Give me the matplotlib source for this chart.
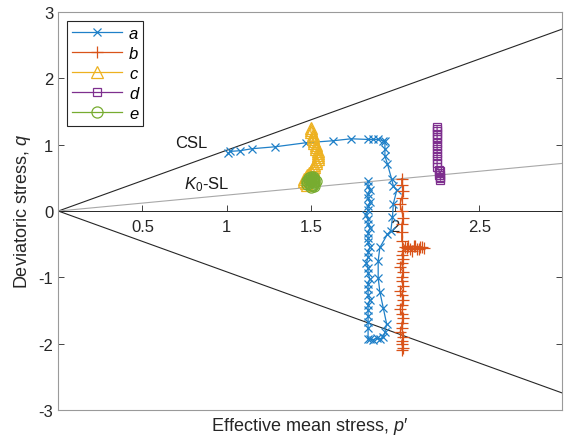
import numpy as np
import matplotlib.pyplot as plt

plt.rcParams['font.family'] = ['Liberation Sans', 'DejaVu Sans']
plt.rcParams['mathtext.fontset'] = 'custom'
plt.rcParams['mathtext.rm'] = 'Liberation Sans'
plt.rcParams['mathtext.it'] = 'Liberation Sans:italic'
plt.rcParams['axes.unicode_minus'] = False

# ---------- data ----------
M_csl = 0.917      # CSL slope (compression / extension)
K0_slope = 0.24    # K0 stress line slope
line_p = [0.0, 3.0]

a_p = [1.84, 1.84, 1.85, 1.84, 1.84, 1.85, 1.84, 1.84, 1.83, 1.84, 1.84, 1.85, 1.84, 1.84,
       1.84, 1.85, 1.84, 1.84, 1.83, 1.84, 1.84, 1.85, 1.84, 1.84, 1.84, 1.85, 1.84, 1.84,
       1.84, 1.84, 1.84, 1.84,
       1.85, 1.87, 1.89, 1.91, 1.93, 1.94, 1.95, 1.93, 1.91, 1.90, 1.90, 1.91, 1.955, 1.975,
       1.985, 1.99, 2.01, 1.99, 1.98, 1.955, 1.94, 1.94, 1.94,
       1.93, 1.90, 1.87, 1.84, 1.74, 1.63, 1.47, 1.29, 1.15, 1.08, 1.02, 1.01]
a_q = [0.45, 0.38, 0.32, 0.26, 0.20, 0.13, 0.07, 0.01, -0.06, -0.12, -0.19, -0.26, -0.33, -0.40,
       -0.47, -0.55, -0.62, -0.70, -0.78, -0.86, -0.94, -1.02, -1.10, -1.18, -1.26, -1.34, -1.42,
       -1.50, -1.58, -1.67, -1.76, -1.93,
       -1.93, -1.94, -1.92, -1.93, -1.90, -1.83, -1.70, -1.46, -1.22, -1.01, -0.75, -0.55, -0.35,
       -0.30, -0.09, 0.11, 0.31, 0.38, 0.48, 0.71, 0.83, 0.94, 1.06,
       1.06, 1.08, 1.08, 1.08, 1.09, 1.06, 1.03, 0.97, 0.94, 0.91, 0.90, 0.87]

b_p = [2.04, 2.04, 2.05, 2.04, 2.03, 2.04, 2.05, 2.04, 2.04, 2.04,
       2.06, 2.08, 2.10, 2.12, 2.14, 2.16, 2.17, 2.15, 2.13, 2.11, 2.09, 2.07, 2.05,
       2.04, 2.05, 2.04, 2.03, 2.05, 2.04, 2.04, 2.05, 2.03, 2.04, 2.05, 2.04, 2.03, 2.04,
       2.05, 2.04, 2.04, 2.03, 2.05, 2.04, 2.04, 2.05, 2.04]
b_q = [0.49, 0.40, 0.30, 0.20, 0.10, 0.00, -0.10, -0.20, -0.32, -0.45,
       -0.55, -0.52, -0.60, -0.53, -0.58, -0.54, -0.56, -0.55, -0.58, -0.53, -0.57, -0.56, -0.60,
       -0.66, -0.72, -0.78, -0.85, -0.92, -0.99, -1.06, -1.13, -1.20, -1.27, -1.34, -1.41, -1.48,
       -1.55, -1.62, -1.69, -1.76, -1.83, -1.90, -1.96, -2.01, -2.06, -2.10]

c_p = [1.48, 1.47, 1.46, 1.46, 1.47, 1.48, 1.49, 1.50, 1.51, 1.52, 1.52, 1.53, 1.53, 1.54,
       1.54, 1.54, 1.54, 1.54, 1.53, 1.53, 1.53, 1.52, 1.52, 1.51, 1.51, 1.51, 1.50, 1.50, 1.50]
c_q = [0.40, 0.43, 0.46, 0.49, 0.52, 0.55, 0.58, 0.61, 0.64, 0.67, 0.70, 0.73, 0.76, 0.79,
       0.82, 0.85, 0.88, 0.91, 0.94, 0.97, 1.00, 1.03, 1.06, 1.09, 1.12, 1.15, 1.19, 1.23, 1.26]

d_p = [2.26, 2.27, 2.27, 2.27, 2.26, 2.27, 2.27, 2.26, 2.25, 2.25, 2.25, 2.25, 2.25, 2.25,
       2.25, 2.25, 2.25, 2.25, 2.25, 2.25, 2.25, 2.25]
d_q = [0.54, 0.50, 0.47, 0.52, 0.57, 0.60, 0.55, 0.62, 0.66, 0.72, 0.78, 0.83, 0.88, 0.93,
       0.98, 1.03, 1.08, 1.12, 1.16, 1.20, 1.24, 1.27]

e_p = [1.50, 1.51, 1.52, 1.52, 1.51, 1.50, 1.49, 1.48, 1.49, 1.50, 1.51, 1.52, 1.53, 1.51,
       1.49, 1.48, 1.50, 1.52, 1.50]
e_q = [0.36, 0.39, 0.42, 0.46, 0.49, 0.52, 0.50, 0.46, 0.42, 0.40, 0.44, 0.49, 0.46, 0.52,
       0.47, 0.41, 0.45, 0.38, 0.48]

series = [
    ('a', a_p, a_q, '#1f80c8', 'x', 6),
    ('b', b_p, b_q, '#D95319', '+', 8),
    ('c', c_p, c_q, '#EDB120', '^', 8),
    ('d', d_p, d_q, '#7E2F8E', 's', 6),
    ('e', e_p, e_q, '#77AC30', 'o', 8),
]

fig = plt.figure(figsize=(5.64, 4.39), dpi=100)
ax = fig.add_axes([0.1034, 0.064, 0.8925, 0.906])

# CSL and K0 lines
p_line = np.array(line_p)
ax.plot(p_line, M_csl * p_line, color='#262626', lw=0.8, zorder=1)
ax.plot(p_line, -M_csl * p_line, color='#262626', lw=0.8, zorder=1)
ax.plot(p_line, K0_slope * p_line, color='#a8a8a8', lw=0.8, zorder=1)

for name, p, q, col, mk, ms in series:
    ax.plot(p, q, color=col, marker=mk, ms=ms, mfc='none', mew=0.9, lw=0.9,
            label=name, zorder=3)

ax.text(0.79, 1.03, 'CSL', fontsize=12, ha='center', va='center', color='#1a1a1a')
ax.text(0.88, 0.42, r'$K_0$-SL', fontsize=12, ha='center', va='center', color='#1a1a1a')

ax.set_xlim(0, 2.99)
ax.set_ylim(-3, 3)
ax.set_yticks([-3, -2, -1, 0, 1, 2, 3])
ax.tick_params(axis='x', bottom=False, labelbottom=False)
ax.tick_params(axis='y', direction='in', left=True, right=True, labelsize=12,
               colors='#262626', length=4, width=0.6)
for s in ax.spines.values():
    s.set_color('#9a9a9a')
    s.set_linewidth(0.8)

# x axis through the origin
sec = ax.secondary_xaxis(0.5)
sec.xaxis.set_ticks_position('bottom')
sec.xaxis.set_label_position('bottom')
sec.set_xticks([0.5, 1, 1.5, 2, 2.5])
sec.set_xticklabels(['0.5', '1', '1.5', '2', '2.5'])
sec.tick_params(direction='in', labelsize=12, colors='#262626', length=4, width=0.6, pad=6)
for s in sec.spines.values():
    s.set_color('#262626')
    s.set_linewidth(0.7)

ax.set_ylabel('Deviatoric stress, $q$', fontsize=13, color='#262626', labelpad=4)
ax.text(0.5, -0.012, "Effective mean stress, $p$\u2032", transform=ax.transAxes,
        fontsize=13, color='#262626', ha='center', va='top')

leg = ax.legend(loc='upper left', bbox_to_anchor=(0.018, 0.978), fancybox=False,
                edgecolor='#262626', framealpha=1, fontsize=12, handlelength=3.0,
                borderpad=0.3, labelspacing=0.3, handletextpad=0.4, borderaxespad=0)
leg.get_frame().set_linewidth(0.8)
for t in leg.get_texts():
    t.set_fontstyle('italic')

fig.savefig('out.png', dpi=100)
